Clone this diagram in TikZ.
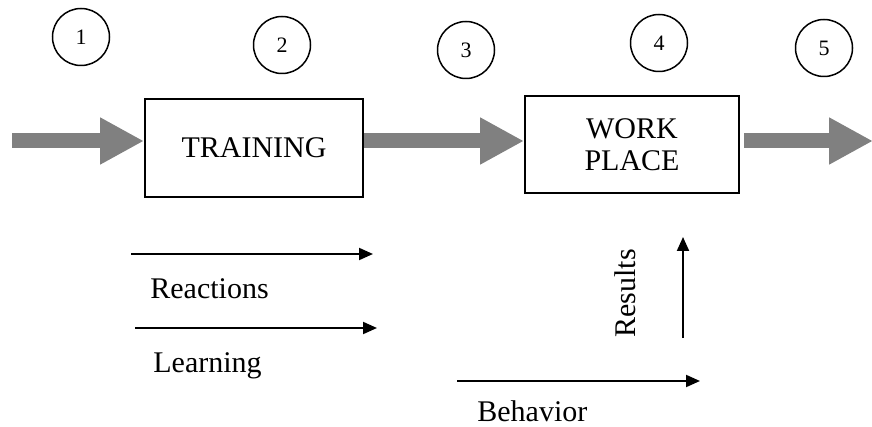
\documentclass[tikz,border=0pt]{standalone}
\usepackage{fontspec}
\setmainfont{Liberation Serif}
\usetikzlibrary{arrows.meta}

\begin{document}
\begin{tikzpicture}[x=0.5pt,y=-0.5pt]
      \tikzset{
        every node/.style={inner sep=0pt},
        stage/.style={circle,draw,line width=0.75pt,minimum size=28.5pt,font=\fontsize{11}{13}\selectfont},
        place/.style={draw,line width=1pt,minimum width=109pt,minimum height=49pt,align=center,font=\fontsize{15}{16}\selectfont},
        measure/.style={font=\fontsize{15}{18}\selectfont},
        flow/.style={draw=gray,line width=7.5pt,-{Triangle[length=22pt,width=22pt]}},
        thinarrow/.style={line width=1pt,-{Triangle[length=7pt,width=6pt]}}
      }
      \useasboundingbox (0,0) rectangle (872,427);

      \node[stage] (s1) at (81,37) {1};
      \node[stage] (s2) at (282,45) {2};
      \node[stage] (s3) at (466,50) {3};
      \node[stage] (s4) at (659,43) {4};
      \node[stage] (s5) at (824,48) {5};

      \node[place] (training) at (254,148) {TRAINING};
      \node[place,minimum width=107pt,minimum height=48.5pt] (workplace) at (632,145) {WORK\\PLACE};

      \coordinate (in) at (12,141);
      \coordinate (out) at (873,141);
      \draw[flow] (in) -- (in -| training.west);
      \draw[flow] (training.east |- in) -- (workplace.west |- in);
      \draw[flow,shorten <=2pt] (workplace.east |- in) -- (out);

      \coordinate (r1) at (131,254);
      \coordinate (r2) at (373,254);
      \coordinate (l1) at (135,328);
      \coordinate (l2) at (377,328);
      \coordinate (b1) at (457,381);
      \coordinate (b2) at (700,381);
      \coordinate (u1) at (683,338);
      \coordinate (u2) at (683,237);
      \draw[thinarrow] (r1) -- (r2);
      \draw[thinarrow] (l1) -- (l2);
      \draw[thinarrow] (b1) -- (b2);
      \draw[thinarrow] (u1) -- (u2);

      \node[measure,anchor=base west] (reactions) at (150,298) {Reactions};
      \node[measure,anchor=base west] (learning) at (153,372) {Learning};
      \node[measure,anchor=base west] (behavior) at (477,421) {Behavior};
      \node[measure,anchor=base west,rotate=90] (results) at (635,338) {Results};
    \end{tikzpicture}
\end{document}
